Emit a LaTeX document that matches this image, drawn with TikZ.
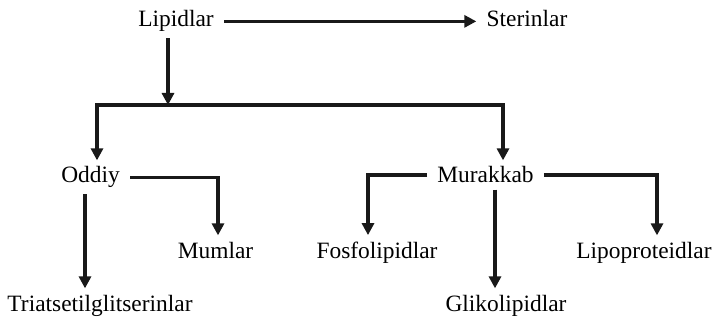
\documentclass[tikz,border=0pt]{standalone}
\usepackage{fontspec}
\setmainfont{Liberation Serif}
\usetikzlibrary{arrows.meta}
\tikzstyle{classe}=[
  anchor=base,
  inner xsep=5pt,
  inner ysep=3pt,
  font=\fontsize{11.7}{13}\selectfont
]
\tikzstyle{lien}=[
  -{Triangle[length=6pt,width=6pt]},
  line width=1.6pt,
  draw=black!90
]

\begin{document}
\begin{tikzpicture}[x=0.5pt,y=-0.5pt]
    \useasboundingbox (0,0) rectangle (715,320);
    \node[classe] (lipidlar) at (176,27) {Lipidlar};
    \node[classe] (sterinlar) at (527,27) {Sterinlar};
    \node[classe] (oddiy) at (90.5,183) {Oddiy};
    \node[classe] (murakkab) at (485.5,183) {Murakkab};
    \node[classe] (mumlar) at (215.5,258) {Mumlar};
    \node[classe] (triatsetil) at (100,311) {Triatsetilglitserinlar};
    \node[classe] (fosfolipidlar) at (377,258) {Fosfolipidlar};
    \node[classe] (glikolipidlar) at (506,311) {Glikolipidlar};
    \node[classe] (lipoproteidlar) at (644,258) {Lipoproteidlar};
    \coordinate (split) at (168,105);
    \draw[lien] (lipidlar.east) -- (lipidlar.east -| sterinlar.west);
    \draw[lien] (lipidlar.south -| split) -- (split);
    \draw[lien] (split) -| ([xshift=3.25pt]oddiy.north);
    \draw[lien] (split) -| ([xshift=8.75pt]murakkab.north);
    \draw[lien] (oddiy.east) -| ([xshift=1.25pt]mumlar.north);
    \draw[lien] ([xshift=-2.75pt]oddiy.south) -- ([xshift=-2.75pt]oddiy.south |- triatsetil.north);
    \draw[lien] (murakkab.west) -| ([xshift=-4.5pt]fosfolipidlar.north);
    \draw[lien] ([xshift=4.75pt]murakkab.south) -- ([xshift=4.75pt]murakkab.south |- glikolipidlar.north);
    \draw[lien] (murakkab.east) -| ([xshift=6.5pt]lipoproteidlar.north);
  \end{tikzpicture}
\end{document}
